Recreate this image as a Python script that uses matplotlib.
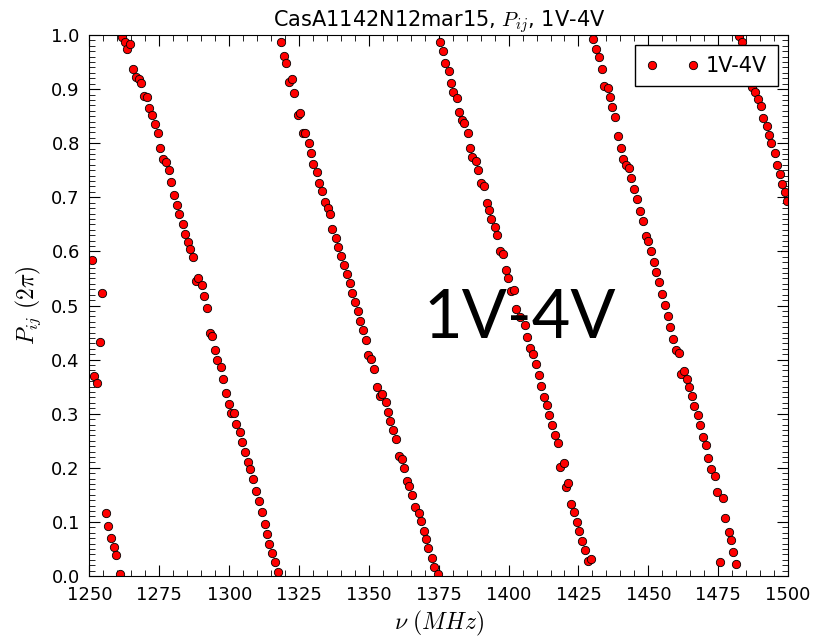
import matplotlib
matplotlib.use("Agg")
import matplotlib.pyplot as plt
from matplotlib.ticker import MultipleLocator, FormatStrFormatter

matplotlib.rcParams.update({
    "font.family": "DejaVu Sans",
    "mathtext.fontset": "cm",
    "font.size": 13,
})

# baseline 1V-4V phase vs frequency
freq = [
    1250.8, 1251.7, 1252.7, 1253.9, 1254.6, 1255.9, 1256.7, 1257.6, 1258.7, 1259.6, 1260.8,
    1261.5, 1262.7, 1263.5, 1264.5, 1265.5, 1266.5, 1267.7, 1268.4, 1269.5, 1270.5,
    1271.2, 1272.4, 1273.3, 1274.5, 1275.2, 1276.4, 1277.4, 1278.5, 1279.2, 1280.1,
    1281.3, 1282.0, 1283.4, 1284.2, 1285.3, 1286.1, 1287.0, 1288.1, 1288.9, 1290.3,
    1291.0, 1292.1, 1293.0, 1293.8, 1294.9, 1295.7, 1297.0, 1297.9, 1299.0, 1299.9,
    1300.6, 1301.8, 1302.5, 1303.9, 1304.7, 1305.8, 1306.7, 1307.6, 1308.6, 1309.6,
    1310.7, 1311.6, 1312.7, 1313.5, 1314.4, 1315.4, 1316.3, 1317.4,
    1318.4, 1319.6, 1320.4, 1321.4, 1322.5, 1323.3, 1324.6, 1325.3, 1326.3, 1327.2,
    1328.6, 1329.3, 1330.1, 1331.4, 1332.1, 1333.3, 1334.2, 1335.3, 1336.2, 1336.9,
    1338.2, 1339.0, 1340.1, 1341.1, 1342.2, 1343.1, 1344.1, 1345.0, 1346.0, 1346.9,
    1348.0, 1349.1, 1349.8, 1350.8, 1351.9, 1352.8, 1354.0, 1354.8, 1356.0, 1356.7,
    1357.6, 1358.6, 1359.6, 1360.8, 1361.7, 1362.7, 1363.5, 1364.5, 1365.5, 1366.4,
    1367.8, 1368.5, 1369.6, 1370.3, 1371.3, 1372.5, 1373.3, 1374.6,
    1375.4, 1376.5, 1377.3, 1378.6, 1379.4, 1380.1, 1381.4, 1382.1, 1383.2, 1384.1,
    1385.6, 1386.3, 1387.0, 1388.2, 1389.0, 1390.1, 1391.1, 1392.2, 1393.1, 1393.8,
    1395.0, 1396.0, 1396.9, 1397.9, 1399.1, 1399.9, 1400.9, 1402.0, 1402.8, 1404.1,
    1406.0, 1406.7, 1407.6, 1408.7, 1409.7, 1410.8, 1411.6, 1412.8, 1413.6, 1414.6,
    1415.6, 1416.5, 1417.6, 1418.5, 1419.7, 1420.5, 1421.4, 1422.4, 1423.3, 1424.4,
    1425.3, 1426.4, 1427.2, 1428.5, 1429.5,
    1430.1, 1431.3, 1432.2, 1433.4, 1434.1, 1435.6, 1436.3, 1437.1, 1438.2, 1439.3,
    1440.3, 1441.1, 1442.1, 1443.1, 1443.9, 1445.0, 1446.1, 1447.1, 1448.0, 1449.2,
    1450.0, 1450.9, 1452.0, 1452.9, 1453.9, 1454.9, 1456.1, 1456.9, 1457.8, 1458.9,
    1459.8, 1461.0, 1461.8, 1462.9, 1463.7, 1464.6, 1465.7, 1466.5, 1467.7, 1468.6,
    1469.7, 1470.7, 1471.4, 1472.6, 1473.7, 1474.5, 1475.5, 1476.6, 1477.3, 1478.8,
    1479.5, 1480.2, 1481.3,
    1482.3, 1483.5, 1484.6, 1485.6, 1486.3, 1487.0, 1488.2, 1489.3, 1490.3, 1491.0,
    1492.5, 1493.2, 1493.9, 1495.3, 1496.1, 1497.2, 1498.0, 1499.0, 1499.6,
]
phase = [
    0.584, 0.370, 0.356, 0.433, 0.524, 0.116, 0.093, 0.070, 0.053, 0.038, 0.004,
    0.997, 0.988, 0.975, 0.983, 0.937, 0.923, 0.919, 0.912, 0.888, 0.885,
    0.866, 0.852, 0.835, 0.818, 0.791, 0.771, 0.765, 0.750, 0.729, 0.704,
    0.685, 0.669, 0.650, 0.633, 0.617, 0.604, 0.589, 0.545, 0.551, 0.537,
    0.518, 0.496, 0.450, 0.444, 0.417, 0.399, 0.387, 0.364, 0.339, 0.318,
    0.302, 0.302, 0.281, 0.266, 0.247, 0.229, 0.210, 0.197, 0.179, 0.158,
    0.139, 0.118, 0.097, 0.078, 0.060, 0.043, 0.026, 0.007,
    0.987, 0.961, 0.948, 0.913, 0.918, 0.892, 0.852, 0.856, 0.819, 0.818,
    0.800, 0.781, 0.762, 0.747, 0.726, 0.712, 0.691, 0.681, 0.670, 0.641,
    0.624, 0.608, 0.591, 0.575, 0.558, 0.541, 0.524, 0.506, 0.489, 0.472,
    0.455, 0.437, 0.408, 0.402, 0.383, 0.349, 0.333, 0.336, 0.322, 0.304,
    0.287, 0.270, 0.253, 0.221, 0.216, 0.199, 0.176, 0.166, 0.150, 0.128,
    0.117, 0.102, 0.084, 0.068, 0.051, 0.033, 0.017, 0.003,
    0.987, 0.971, 0.948, 0.933, 0.911, 0.895, 0.883, 0.858, 0.842, 0.838,
    0.818, 0.791, 0.774, 0.767, 0.750, 0.726, 0.720, 0.689, 0.677, 0.660,
    0.646, 0.631, 0.601, 0.596, 0.566, 0.550, 0.527, 0.529, 0.493, 0.479,
    0.464, 0.441, 0.422, 0.410, 0.392, 0.372, 0.351, 0.330, 0.316, 0.298,
    0.279, 0.261, 0.245, 0.202, 0.208, 0.164, 0.172, 0.133, 0.118, 0.100,
    0.083, 0.065, 0.048, 0.028, 0.031,
    0.992, 0.974, 0.959, 0.938, 0.906, 0.902, 0.885, 0.867, 0.848, 0.813,
    0.792, 0.771, 0.759, 0.755, 0.736, 0.716, 0.696, 0.675, 0.656, 0.628,
    0.619, 0.600, 0.581, 0.562, 0.543, 0.522, 0.501, 0.481, 0.460, 0.439,
    0.418, 0.413, 0.373, 0.379, 0.364, 0.349, 0.332, 0.314, 0.297, 0.279,
    0.257, 0.243, 0.218, 0.197, 0.185, 0.155, 0.026, 0.145, 0.107, 0.081,
    0.066, 0.044, 0.022,
    0.998, 0.987, 0.962, 0.940, 0.921, 0.903, 0.895, 0.881, 0.868, 0.847,
    0.832, 0.816, 0.800, 0.782, 0.760, 0.744, 0.725, 0.710, 0.694,
]

baseline = "1V-4V"
title = "CasA1142N12mar15, $P_{ij}$, " + baseline

fig = plt.figure(figsize=(8.15, 6.39), dpi=100)
ax = fig.add_axes([0.1098, 0.0986, 0.8571, 0.8466])

ax.plot(freq, phase, "o", color="red", markeredgecolor="black",
        markeredgewidth=0.6, markersize=6, label=baseline)

ax.set_xlim(1250, 1500)
ax.set_ylim(0, 1)
ax.xaxis.set_major_locator(MultipleLocator(25))
ax.xaxis.set_minor_locator(MultipleLocator(5))
ax.yaxis.set_major_locator(MultipleLocator(0.1))
ax.yaxis.set_minor_locator(MultipleLocator(0.01))
ax.yaxis.set_major_formatter(FormatStrFormatter("%.1f"))
ax.tick_params(which="both", direction="in", top=True, right=True)
ax.tick_params(which="major", length=8, width=0.8, pad=7, labelsize=13)
ax.tick_params(which="minor", length=4, width=0.6)

ax.set_title(title, fontsize=15, pad=6)
ax.set_xlabel(r"$\nu\ (MHz)$", fontsize=17, labelpad=4)
ax.set_ylabel(r"$P_{ij}\ (2\pi)$", fontsize=17, labelpad=6)

ax.legend(loc="upper right", numpoints=2, fancybox=False, framealpha=1,
          edgecolor="black", fontsize=15, borderaxespad=0.5,
          handlelength=2.6, handletextpad=0.3, borderpad=0.5)

# big label pasted over the panel
ax.text(0.616, 0.44, baseline, transform=ax.transAxes, ha="center",
        va="baseline", fontsize=48, family="Lato", zorder=5)

fig.savefig("out.png", dpi=100)
